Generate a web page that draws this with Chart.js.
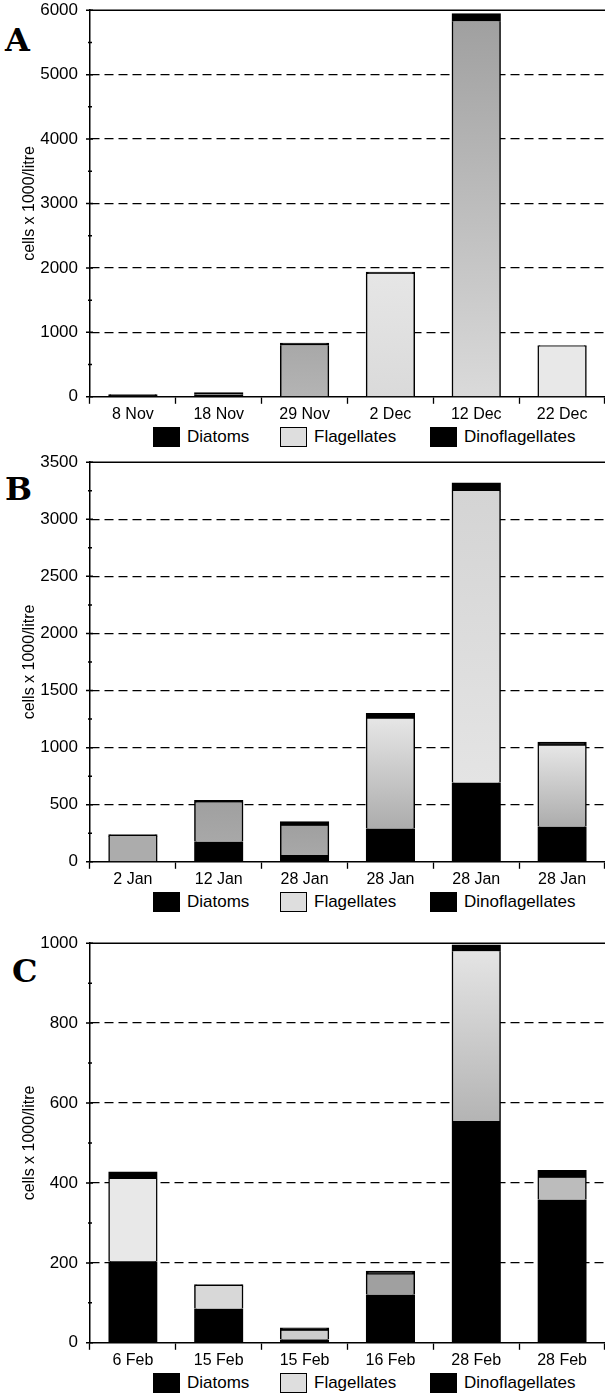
<!DOCTYPE html>
<html>
<head>
<meta charset="utf-8">
<script src="https://cdn.jsdelivr.net/npm/chart.js@4.4.1/dist/chart.umd.min.js"></script>
<style>
  body { margin: 0; background: #fff; width: 605px; height: 1393px; overflow: hidden; position: relative;
         font-family: "Liberation Sans", Arial, sans-serif; color: #000; }
  .panel { position: absolute; left: 0; width: 605px; }
  .letter { position: absolute; font-family: "DejaVu Serif", serif; font-weight: bold; font-size: 32px; line-height: 1; }
  .legend { position: absolute; left: 0; width: 605px; height: 20px; font-size: 17px; }
  .legend .item { position: absolute; top: 0; height: 20px; display: flex; align-items: center; }
  .legend .box { width: 27px; height: 20px; box-sizing: border-box; border: 1.5px solid #000; margin-right: 7px; }
</style>
</head>
<body>
<div class="letter" style="left:5px;top:24px">A</div>
<div class="letter" style="left:5px;top:473px">B</div>
<div class="letter" style="left:12px;top:955px">C</div>

<div class="panel" style="top:0px;height:425px"><canvas id="chartA"></canvas></div>
<div class="panel" style="top:452px;height:438px"><canvas id="chartB"></canvas></div>
<div class="panel" style="top:933px;height:438px"><canvas id="chartC"></canvas></div>

<div class="legend" id="legendA" style="top:427px"></div>
<div class="legend" id="legendB" style="top:892px"></div>
<div class="legend" id="legendC" style="top:1373px"></div>

<script>
// --- data (cells x 1000 per litre) ---
var seriesNames = ['Diatoms', 'Flagellates', 'Dinoflagellates'];

var datesA = ['8 Nov', '18 Nov', '29 Nov', '2 Dec', '12 Dec', '22 Dec'];
var diatomsA = [20, 30, 5, 5, 10, 5];
var flagellatesA = [0, 10, 795, 1900, 5820, 775];
var dinoflagellatesA = [10, 20, 30, 25, 115, 10];

var datesB = ['2 Jan', '12 Jan', '28 Jan', '28 Jan', '28 Jan', '28 Jan'];
var diatomsB = [5, 175, 60, 290, 693, 307];
var flagellatesB = [220, 345, 255, 964, 2555, 710];
var dinoflagellatesB = [12, 15, 35, 44, 70, 30];

var datesC = ['6 Feb', '15 Feb', '15 Feb', '16 Feb', '28 Feb', '28 Feb'];
var diatomsC = [204, 85, 8, 120, 555, 358];
var flagellatesC = [206, 57, 22, 51, 425, 55];
var dinoflagellatesC = [17, 3, 7, 8, 15, 18];

// axis ranges
var yMaxA = 6000, yStepA = 1000;
var yMaxB = 3500, yStepB = 500;
var yMaxC = 1000, yStepC = 200;

// grey shade of the stippled flagellate part, [top, bottom] per bar
var shadeA = [['#cccccc', '#cccccc'], ['#cccccc', '#cccccc'], ['#a8a8a8', '#b4b4b4'],
              ['#e6e6e6', '#dadada'], ['#a0a0a0', '#dadada'], ['#e8e8e8', '#e8e8e8']];
var shadeB = [['#acacac', '#acacac'], ['#a0a0a0', '#a8a8a8'], ['#a0a0a0', '#a8a8a8'],
              ['#e6e6e6', '#acacac'], ['#d4d4d4', '#e4e4e4'], ['#e6e6e6', '#acacac']];
var shadeC = [['#e8e8e8', '#e8e8e8'], ['#d8d8d8', '#d8d8d8'], ['#cccccc', '#cccccc'],
              ['#a0a0a0', '#a0a0a0'], ['#e4e4e4', '#b4b4b4'], ['#bcbcbc', '#bcbcbc']];

// top frame line + major/minor tick marks crossing the y axis
var framePlugin = {
    id: 'frame',
    afterDraw: function(chart) {
        var ctx = chart.ctx, a = chart.chartArea, y = chart.scales.y;
        var step = chart.options.scales.y.ticks.stepSize;
        ctx.save();
        ctx.strokeStyle = '#000';
        ctx.lineWidth = 1.5;
        ctx.beginPath();
        ctx.moveTo(a.left, a.top);
        ctx.lineTo(a.right, a.top);
        ctx.stroke();
        ctx.beginPath();
        for (var v = 0; v <= y.max; v += step / 2) {
            var py = y.getPixelForValue(v);
            var major = (v % step) === 0;
            ctx.moveTo(a.left - (major ? 4 : 2), py);
            ctx.lineTo(a.left + (major ? 3 : 2), py);
        }
        ctx.stroke();
        ctx.restore();
    }
};

function flagColor(diatoms, flagellates, shades) {
    return function(c) {
        var s = shades[c.dataIndex];
        var chart = c.chart;
        if (!chart.chartArea || s[0] === s[1]) return s[0];
        var y = chart.scales.y;
        var y0 = y.getPixelForValue(diatoms[c.dataIndex]);
        var y1 = y.getPixelForValue(diatoms[c.dataIndex] + flagellates[c.dataIndex]);
        if (!isFinite(y0) || !isFinite(y1) || y0 === y1) return s[0];
        var g = chart.ctx.createLinearGradient(0, y1, 0, y0);
        g.addColorStop(0, s[0]);
        g.addColorStop(1, s[1]);
        return g;
    };
}

function showChart(canvasId, labels, diatoms, flagellates, dinos, shades, yMax, yStep) {
    var canvas = document.getElementById(canvasId);
    var box = canvas.parentElement;
    canvas.width = box.offsetWidth;
    canvas.height = box.offsetHeight;

    var common = { borderColor: '#000', borderSkipped: false, inflateAmount: 0.6,
                   barPercentage: 0.56, categoryPercentage: 1.0 };

    return new Chart(canvas.getContext('2d'), {
        type: 'bar',
        data: {
            labels: labels,
            datasets: [
                Object.assign({ label: seriesNames[0], data: diatoms, backgroundColor: '#000',
                                borderWidth: { left: 1.5, right: 1.5, bottom: 1.5, top: 0 } }, common),
                Object.assign({ label: seriesNames[1], data: flagellates,
                                backgroundColor: flagColor(diatoms, flagellates, shades),
                                borderWidth: { left: 1.5, right: 1.5, bottom: 0, top: 0 } }, common),
                Object.assign({ label: seriesNames[2], data: dinos, backgroundColor: '#000',
                                borderWidth: 1.5 }, common)
            ]
        },
        options: {
            responsive: false,
            animation: false,
            layout: { padding: { left: 16, top: 10, right: 0, bottom: 0 } },
            plugins: { legend: { display: false }, tooltip: { enabled: false } },
            scales: {
                x: {
                    stacked: true,
                    grid: { offset: true, drawOnChartArea: false, tickLength: 7, tickColor: '#000', tickWidth: 1.3 },
                    border: { display: true, color: '#000', width: 1.5 },
                    ticks: { color: '#000', font: { family: 'Liberation Sans', size: 16 }, padding: 1,
                             maxRotation: 0, autoSkip: false }
                },
                y: {
                    stacked: true,
                    min: 0,
                    max: yMax,
                    afterFit: function(scale) { scale.width = 74; },
                    grid: {
                        color: function(c) {
                            return (c.tick.value === 0 || c.tick.value === yMax) ? 'rgba(0,0,0,0)' : '#000';
                        },
                        lineWidth: 1.3,
                        tickLength: 12,
                        tickColor: 'rgba(0,0,0,0)'
                    },
                    border: { display: true, color: '#000', width: 1.5, dash: [9, 5] },
                    ticks: { stepSize: yStep, color: '#000', padding: 0,
                             font: { family: 'Liberation Sans', size: 17 },
                             callback: function(v) { return String(v); } },
                    title: { display: true, text: 'cells x 1000/litre', color: '#000',
                             font: { family: 'Liberation Sans', size: 16 }, padding: { top: 4, bottom: 4 } }
                }
            }
        },
        plugins: [framePlugin]
    });
}

var legendLeft = [153, 280, 430];
var legendFill = ['#000', '#dedede', '#000'];
function showLegend(id) {
    var el = document.getElementById(id);
    seriesNames.forEach(function(name, i) {
        var item = document.createElement('div');
        item.className = 'item';
        item.style.left = legendLeft[i] + 'px';
        var sw = document.createElement('span');
        sw.className = 'box';
        sw.style.background = legendFill[i];
        item.appendChild(sw);
        item.appendChild(document.createTextNode(name));
        el.appendChild(item);
    });
}

showChart('chartA', datesA, diatomsA, flagellatesA, dinoflagellatesA, shadeA, yMaxA, yStepA);
showChart('chartB', datesB, diatomsB, flagellatesB, dinoflagellatesB, shadeB, yMaxB, yStepB);
showChart('chartC', datesC, diatomsC, flagellatesC, dinoflagellatesC, shadeC, yMaxC, yStepC);
showLegend('legendA');
showLegend('legendB');
showLegend('legendC');
</script>
</body>
</html>
